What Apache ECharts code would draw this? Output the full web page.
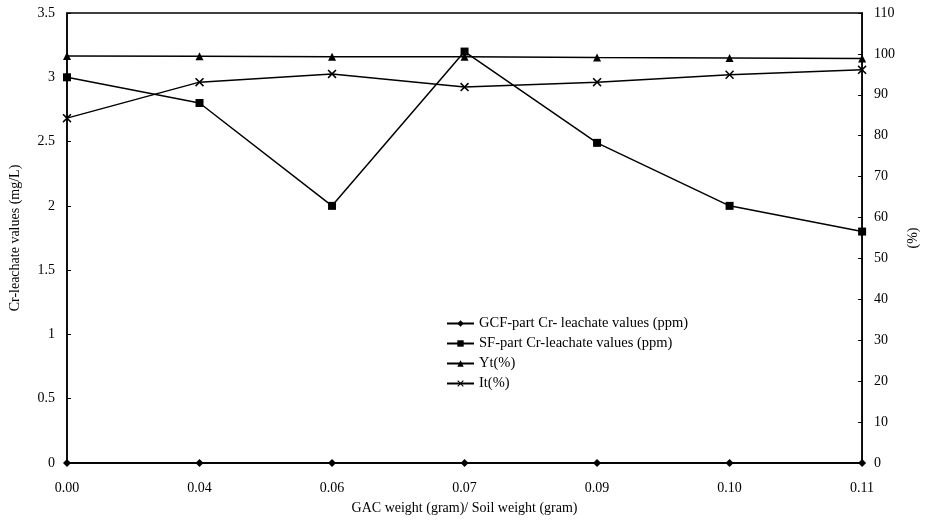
<!DOCTYPE html>
<html>
<head>
<meta charset="utf-8">
<script src="https://cdn.jsdelivr.net/npm/echarts@6/dist/echarts.min.js"></script>
<style>html,body{margin:0;padding:0;background:#fff}#c{width:928px;height:520px}</style>
</head>
<body>
<div id="c"></div>
<script>
const categories = ['0.00','0.04','0.06','0.07','0.09','0.10','0.11'];
const gcfValues = [0, 0, 0, 0, 0, 0, 0];
const sfValues = [3.0, 2.8, 2.0, 3.2, 2.49, 2.0, 1.8];
const ytValues = [99.5, 99.4, 99.3, 99.3, 99.1, 99.0, 98.9];
const itValues = [84.3, 93.1, 95.1, 91.9, 93.1, 94.9, 96.1];
const leftTicks = { min: 0, max: 3.5, interval: 0.5 };
const rightTicks = { min: 0, max: 110, interval: 10 };

const font = '"Liberation Serif", "Times New Roman", serif';
const xPath = 'path://M0,1.2 L1.2,0 L5,3.8 L8.8,0 L10,1.2 L6.2,5 L10,8.8 L8.8,10 L5,6.2 L1.2,10 L0,8.8 L3.8,5 Z';
const chart = echarts.init(document.getElementById('c'), null, {renderer: 'canvas'});

function ser(name, data, symbol, size, yIdx) {
  return {
    name, type: 'line', data, yAxisIndex: yIdx, symbol, symbolSize: size,
    lineStyle: {color: '#000', width: 1.5},
    itemStyle: {color: '#000'},
    emphasis: {disabled: true}, animation: false
  };
}

chart.setOption({
  backgroundColor: '#fff',
  animation: false,
  grid: {left: 65, right: 60, top: 13, bottom: 57, show: true, borderColor: '#000', borderWidth: 1.5},
  legend: {
    orient: 'vertical', left: 441, top: 311, itemGap: 5, itemWidth: 27, itemHeight: 8,
    textStyle: {fontFamily: font, fontSize: 14.5, color: '#000'},
    data: ['GCF-part Cr- leachate values (ppm)', 'SF-part Cr-leachate values (ppm)', 'Yt(%)', 'It(%)']
  },
  xAxis: {
    type: 'category', data: categories, boundaryGap: false,
    name: 'GAC weight (gram)/ Soil weight (gram)', nameLocation: 'middle', nameGap: 38,
    nameTextStyle: {fontFamily: font, fontSize: 14, color: '#000'},
    axisLine: {lineStyle: {color: '#000', width: 1.5}},
    axisTick: {show: false},
    axisLabel: {fontFamily: font, fontSize: 14, color: '#000', margin: 18},
    splitLine: {show: false}
  },
  yAxis: [{
    type: 'value', min: leftTicks.min, max: leftTicks.max, interval: leftTicks.interval, position: 'left',
    name: 'Cr-leachate values (mg/L)', nameLocation: 'middle', nameGap: 45, nameRotate: 90,
    nameTextStyle: {fontFamily: font, fontSize: 14, color: '#000'},
    axisLine: {show: true, lineStyle: {color: '#000', width: 1.5}},
    axisTick: {show: true, inside: true, length: 4, lineStyle: {color: '#000'}},
    axisLabel: {fontFamily: font, fontSize: 14, color: '#000', margin: 12, formatter: v => String(v)},
    splitLine: {show: false}
  }, {
    type: 'value', min: rightTicks.min, max: rightTicks.max, interval: rightTicks.interval, position: 'right',
    name: '(%)', nameLocation: 'middle', nameGap: 40, nameRotate: 90,
    nameTextStyle: {fontFamily: font, fontSize: 14, color: '#000'},
    axisLine: {show: true, lineStyle: {color: '#000', width: 1.5}},
    axisTick: {show: true, inside: true, length: 4, lineStyle: {color: '#000'}},
    axisLabel: {fontFamily: font, fontSize: 14, color: '#000', margin: 12},
    splitLine: {show: false}
  }],
  series: [
    ser('GCF-part Cr- leachate values (ppm)', gcfValues, 'diamond', 8, 0),
    ser('SF-part Cr-leachate values (ppm)', sfValues, 'rect', 8, 0),
    ser('Yt(%)', ytValues, 'triangle', 8, 1),
    ser('It(%)', itValues, xPath, 9, 1)
  ]
});
</script>
</body>
</html>
